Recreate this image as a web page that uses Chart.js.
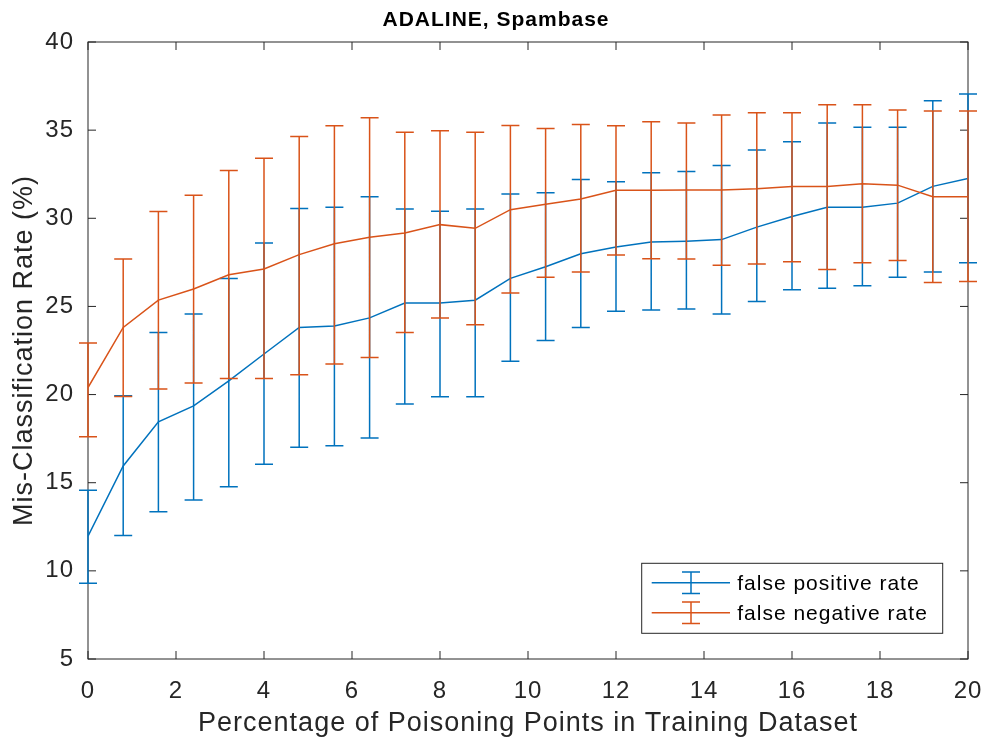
<!DOCTYPE html>
<html>
<head>
<meta charset="utf-8">
<title>ADALINE, Spambase</title>
<script src="https://cdn.jsdelivr.net/npm/chart.js@4.4.1/dist/chart.umd.min.js"></script>
<style>
    html, body { margin: 0; padding: 0; background: #ffffff; }
    #myChart { display: block; }
</style>
</head>
<body>
<canvas id="myChart" width="984" height="743"></canvas>
<script>
    /**
     * Data
     */
    var poisonPct = [0, 0.8, 1.6, 2.4, 3.2, 4.0, 4.8, 5.6, 6.4, 7.2, 8.0, 8.8, 9.6, 10.4, 11.2, 12.0, 12.8, 13.6, 14.4, 15.2, 16.0, 16.8, 17.6, 18.4, 19.2, 20.0];

    var fprMean = [11.97, 15.95, 18.45, 19.36, 20.78, 22.3, 23.81, 23.89, 24.35, 25.19, 25.19, 25.35, 26.59, 27.25, 27.99, 28.37, 28.65, 28.7, 28.79, 29.5, 30.1, 30.63, 30.63, 30.86, 31.81, 32.26];
    var fprHigh = [14.57, 19.93, 23.52, 24.57, 26.59, 28.6, 30.55, 30.63, 31.22, 30.52, 30.4, 30.52, 31.38, 31.45, 32.2, 32.07, 32.58, 32.65, 33.0, 33.88, 34.34, 35.4, 35.17, 35.17, 36.67, 37.05];
    var fprLow = [9.3, 12.01, 13.35, 14.02, 14.77, 16.05, 17.01, 17.1, 17.54, 19.47, 19.87, 19.87, 21.89, 23.07, 23.81, 24.72, 24.8, 24.85, 24.57, 25.28, 25.94, 26.03, 26.18, 26.65, 26.95, 27.48];

    var fnrMean = [20.4, 23.81, 25.36, 25.99, 26.8, 27.12, 27.94, 28.55, 28.92, 29.17, 29.64, 29.43, 30.49, 30.79, 31.09, 31.59, 31.59, 31.61, 31.61, 31.68, 31.81, 31.81, 31.96, 31.88, 31.22, 31.22];
    var fnrHigh = [22.92, 27.69, 30.38, 31.31, 32.71, 33.41, 34.64, 35.25, 35.71, 34.88, 34.96, 34.88, 35.27, 35.1, 35.32, 35.25, 35.48, 35.4, 35.86, 35.99, 35.99, 36.44, 36.44, 36.14, 36.08, 36.08];
    var fnrLow = [17.61, 19.89, 20.31, 20.66, 20.91, 20.91, 21.12, 21.73, 22.1, 23.52, 24.35, 23.96, 25.76, 26.65, 26.95, 27.92, 27.71, 27.69, 27.33, 27.41, 27.54, 27.09, 27.48, 27.61, 26.36, 26.42];

    var xTicks = [0, 2, 4, 6, 8, 10, 12, 14, 16, 18, 20];
    var yTicks = [5, 10, 15, 20, 25, 30, 35, 40];

    var blue = '#0072BD';
    var orange = '#D95319';
    var axisGrey = '#262626';
    var fontFamily = "'Liberation Sans', Arial, Helvetica, sans-serif";

    function points(xs, ys) {
        return xs.map(function (x, i) {
            return {x: x, y: ys[i]};
        });
    }

    /**
     * Plugins
     *
     * - Letter spacing for all text
     * - Axes box with inward ticks
     * - Error bars
     * - Legend box
     */

    var letterSpacing = {
        id: 'letterSpacing',
        beforeDraw: function (chart) {
            chart.ctx.letterSpacing = '1px';
        }
    };

    var axesBox = {
        id: 'axesBox',
        beforeDatasetsDraw: function (chart) {
            var ctx = chart.ctx;
            var a = chart.chartArea;
            var xs = chart.scales.x;
            var ys = chart.scales.y;
            var len = 8;
            ctx.save();
            ctx.strokeStyle = axisGrey;
            ctx.lineWidth = 1;
            ctx.strokeRect(a.left, a.top, a.right - a.left, a.bottom - a.top);
            ctx.beginPath();
            xTicks.forEach(function (t) {
                var px = xs.getPixelForValue(t);
                ctx.moveTo(px, a.bottom); ctx.lineTo(px, a.bottom - len);
                ctx.moveTo(px, a.top); ctx.lineTo(px, a.top + len);
            });
            yTicks.forEach(function (t) {
                var py = ys.getPixelForValue(t);
                ctx.moveTo(a.left, py); ctx.lineTo(a.left + len, py);
                ctx.moveTo(a.right, py); ctx.lineTo(a.right - len, py);
            });
            ctx.stroke();
            ctx.restore();
        }
    };

    var errorBars = {
        id: 'errorBars',
        afterDatasetDraw: function (chart, args) {
            var ds = chart.data.datasets[args.index];
            var ys = chart.scales.y;
            var ctx = chart.ctx;
            var cap = 9;
            ctx.save();
            ctx.strokeStyle = ds.borderColor;
            ctx.lineWidth = 1.5;
            ctx.beginPath();
            args.meta.data.forEach(function (pt, i) {
                var top = ys.getPixelForValue(ds.errHigh[i]);
                var bottom = ys.getPixelForValue(ds.errLow[i]);
                ctx.moveTo(pt.x, top); ctx.lineTo(pt.x, bottom);
                ctx.moveTo(pt.x - cap, top); ctx.lineTo(pt.x + cap, top);
                ctx.moveTo(pt.x - cap, bottom); ctx.lineTo(pt.x + cap, bottom);
            });
            ctx.stroke();
            ctx.restore();
        }
    };

    var legendBox = {
        id: 'legendBox',
        afterDraw: function (chart) {
            var ctx = chart.ctx;
            var a = chart.chartArea;
            var w = 301, h = 70;
            var x0 = a.right - 25.3 - w;
            var y0 = a.bottom - 25.7 - h;
            ctx.save();
            ctx.fillStyle = '#ffffff';
            ctx.fillRect(x0, y0, w, h);
            ctx.strokeStyle = axisGrey;
            ctx.lineWidth = 1;
            ctx.strokeRect(x0, y0, w, h);
            ctx.letterSpacing = '1px';
            ctx.font = '21px ' + fontFamily;
            ctx.textBaseline = 'middle';
            ctx.textAlign = 'left';
            chart.data.datasets.forEach(function (ds, i) {
                var ly = y0 + 19.4 + i * 30;
                var cx = x0 + 49.3;
                ctx.strokeStyle = ds.borderColor;
                ctx.lineWidth = 1.5;
                ctx.beginPath();
                ctx.moveTo(x0 + 10, ly); ctx.lineTo(x0 + 88.3, ly);
                ctx.moveTo(cx, ly - 10.8); ctx.lineTo(cx, ly + 10.8);
                ctx.moveTo(cx - 9, ly - 10.8); ctx.lineTo(cx + 9, ly - 10.8);
                ctx.moveTo(cx - 9, ly + 10.8); ctx.lineTo(cx + 9, ly + 10.8);
                ctx.stroke();
                ctx.fillStyle = '#000000';
                ctx.fillText(ds.label, x0 + 95.5, ly + 1.5);
            });
            ctx.restore();
        }
    };

    /**
     * Chart.js
     */

    var ctx = document.getElementById('myChart').getContext('2d');
    var chart = new Chart(ctx, {
        type: 'line',

        data: {
            datasets: [{
                label: 'false positive rate',
                data: points(poisonPct, fprMean),
                errLow: fprLow,
                errHigh: fprHigh,
                borderColor: blue,
                backgroundColor: blue,
                borderWidth: 1.5,
                pointRadius: 0,
                fill: false,
                order: 2
            }, {
                label: 'false negative rate',
                data: points(poisonPct, fnrMean),
                errLow: fnrLow,
                errHigh: fnrHigh,
                borderColor: orange,
                backgroundColor: orange,
                borderWidth: 1.5,
                pointRadius: 0,
                fill: false,
                order: 1
            }]
        },

        options: {
            responsive: false,
            animation: false,
            devicePixelRatio: 1,
            // left padding only moves the centred title; the y axis is narrowed to match
            layout: {padding: {left: 24, right: 16, top: 0, bottom: 0}},
            plugins: {
                legend: {display: false},
                tooltip: {enabled: false},
                title: {
                    display: true,
                    text: 'ADALINE, Spambase',
                    color: '#000000',
                    font: {family: fontFamily, size: 21, weight: 'bold'},
                    padding: {top: 7.9, bottom: 8.9}
                }
            },
            scales: {
                x: {
                    type: 'linear',
                    min: 0,
                    max: 20,
                    afterFit: function (scale) {
                        scale.height = 84;
                        scale.paddingLeft = 0;
                        scale.paddingRight = 0;
                    },
                    grid: {display: false},
                    border: {display: false},
                    ticks: {stepSize: 2, padding: 10, color: axisGrey, font: {family: fontFamily, size: 24}},
                    title: {
                        display: true,
                        text: 'Percentage of Poisoning Points in Training Dataset',
                        color: axisGrey,
                        font: {family: fontFamily, size: 27},
                        padding: {top: 0, bottom: 2.8}
                    }
                },
                y: {
                    min: 5,
                    max: 40,
                    afterFit: function (scale) { scale.width = 64; },
                    grid: {display: false},
                    border: {display: false},
                    ticks: {stepSize: 5, padding: 6, color: axisGrey, font: {family: fontFamily, size: 24}},
                    title: {
                        display: true,
                        text: 'Mis-Classification Rate (%)',
                        color: axisGrey,
                        font: {family: fontFamily, size: 27},
                        padding: {top: -15.2, bottom: 0}
                    }
                }
            }
        },

        plugins: [letterSpacing, axesBox, errorBars, legendBox]
    });
</script>
</body>
</html>
